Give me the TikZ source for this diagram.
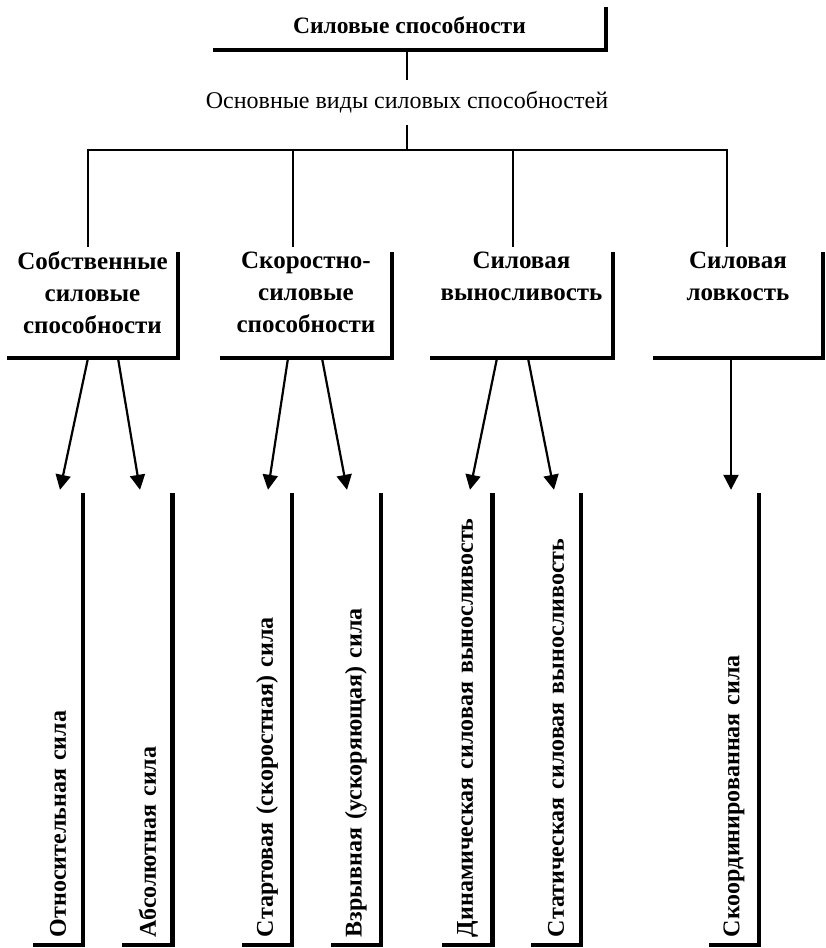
\documentclass[tikz,border=0pt]{standalone}
\usepackage{fontspec}
\setmainfont{Liberation Serif}
\usetikzlibrary{arrows.meta}
\begin{document}
\begin{tikzpicture}[x=1pt,y=-1pt,
  frame/.style={line width=4.5pt},
  conn/.style={line width=1.5pt},
  arr/.style={line width=2.2pt,-{Triangle[width=15pt,length=15pt]}},
  topbox/.style={inner sep=0pt,minimum width=393pt,minimum height=43pt,font=\bfseries\fontsize{23.5}{26}\selectfont},
  midtext/.style={inner sep=0pt,minimum height=45pt,font=\fontsize{24}{26}\selectfont},
  catbox/.style={inner sep=0pt,font=\bfseries\fontsize{25}{32}\selectfont},
  vbox/.style={rotate=90,inner xsep=8pt,inner ysep=0pt,minimum width=452pt,minimum height=50pt,
    text width=436pt,align=left,font=\bfseries\fontsize{24}{26}\selectfont}]
\useasboundingbox (0,0) rectangle (825,948);
\fill[white] (0,0) rectangle (825,948);

% top box
\node[topbox] (top) at (409.5,28.5) {\raisebox{7pt}{Силовые способности}};
\draw[frame] (top.north east) -- (top.south east) -- (top.south west);

% middle label
\node[midtext] (mid) at (407,102.5) {\raisebox{-2pt}{Основные виды силовых способностей}};
\draw[conn] ([xshift=-2.5pt]top.south) -- (mid.north);
\coordinate (hub) at (407,150);
\draw[conn] (mid.south) -- (hub);

% category boxes
\node[catbox] (c1) at (92.5,305) {\parbox[c][106pt][t]{171pt}{\centering Собственные\\силовые\\способности}};
\node[catbox] (c2) at (306,305) {\parbox[c][106pt][t]{172pt}{\centering Скоростно-\\силовые\\способности}};
\node[catbox] (c3) at (521.5,305) {\parbox[c][106pt][t]{183pt}{\centering Силовая\\выносливость}};
\node[catbox] (c4) at (738,305) {\parbox[c][106pt][t]{170pt}{\centering Силовая\\ловкость}};
\foreach \n in {c1,c2,c3,c4}{
  \draw[frame] (\n.north east) -- (\n.south east) -- (\n.south west);
}

% tree connectors
\draw[conn] ([xshift=-4.5pt,yshift=5pt]c1.north) |- (hub) -| ([xshift=-11pt,yshift=5pt]c4.north);
\draw[conn] ([xshift=-13pt,yshift=5pt]c2.north) -- ([xshift=-13pt]c2.north |- hub);
\draw[conn] ([xshift=-8.5pt,yshift=5pt]c3.north) -- ([xshift=-8.5pt]c3.north |- hub);

% vertical boxes
\node[vbox] (v1) at (58,719) {Относительная сила};
\node[vbox] (v2) at (147.5,719) {Абсолютная сила};
\node[vbox] (v3) at (267,719) {Стартовая (скоростная) сила};
\node[vbox] (v4) at (356,719) {Взрывная (ускоряющая) сила};
\node[vbox] (v5) at (467.5,719) {Динамическая силовая выносливость};
\node[vbox] (v6) at (556,719) {Статическая силовая выносливость};
\node[vbox] (v7) at (734,719) {Скоординированная сила};
\foreach \n in {v1,v2,v3,v4,v5,v6,v7}{
  \draw[frame] (\n.south east) -- (\n.south west) -- (\n.north west);
}

% arrows
\draw[arr] ([xshift=-4.5pt]c1.south) -- ([xshift=2pt,yshift=3pt]v1.east);
\draw[arr] ([xshift=25.5pt]c1.south) -- ([xshift=-7.5pt,yshift=3pt]v2.east);
\draw[arr] ([xshift=-18pt]c2.south) -- ([xshift=1pt,yshift=3pt]v3.east);
\draw[arr] ([xshift=16pt]c2.south) -- ([xshift=-9pt,yshift=3pt]v4.east);
\draw[arr] ([xshift=-24.5pt]c3.south) -- ([xshift=2.5pt,yshift=3pt]v5.east);
\draw[arr] ([xshift=6.5pt]c3.south) -- ([xshift=-2pt,yshift=3pt]v6.east);
\draw[arr] ([xshift=-7pt]c4.south) -- ([xshift=-3pt,yshift=3pt]v7.east);
\end{tikzpicture}
\end{document}
